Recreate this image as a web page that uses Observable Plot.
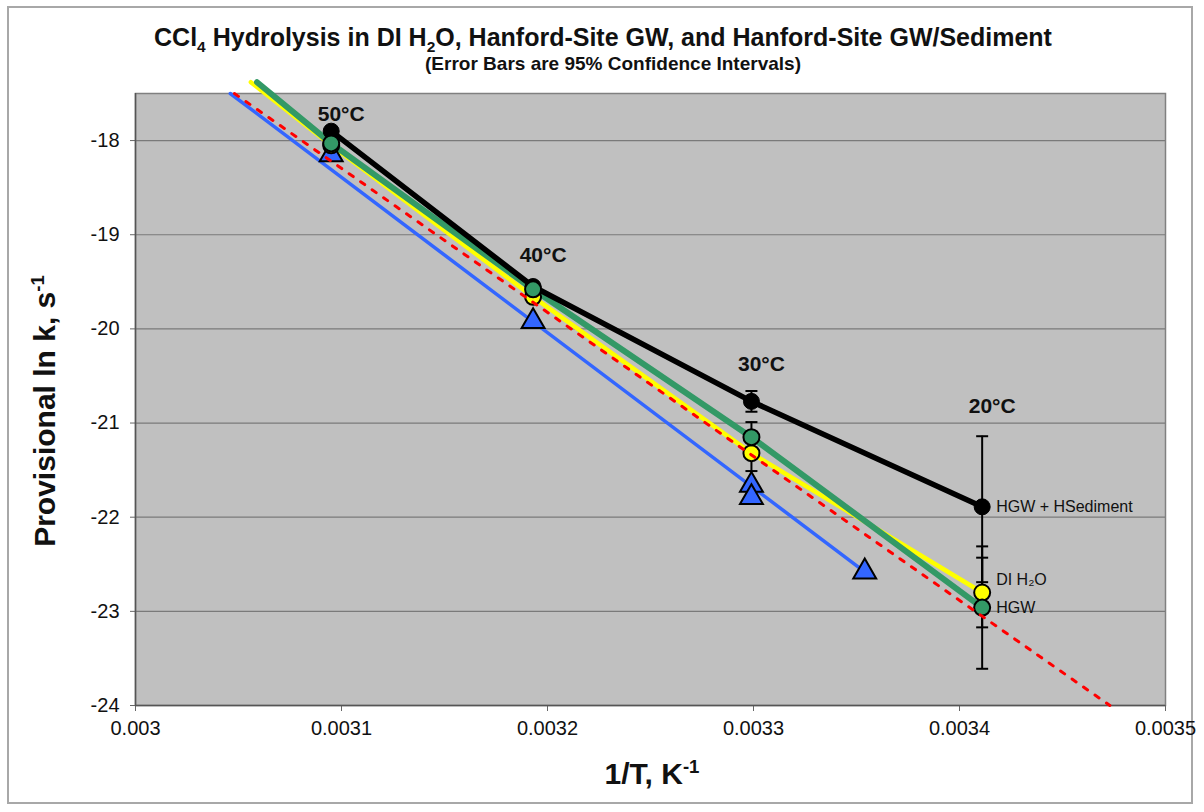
<!DOCTYPE html>
<html>
<head>
<meta charset="utf-8">
<script src="https://cdn.jsdelivr.net/npm/d3@7"></script>
<script src="https://cdn.jsdelivr.net/npm/@observablehq/plot@0.6"></script>
<style>
  body { margin: 0; background: #fff; font-family: "Liberation Sans", Arial, sans-serif; }
  #wrap { position: relative; width: 1204px; height: 812px; overflow: hidden; }
  #border { position: absolute; left: 7px; top: 6px; width: 1186px; height: 798px; border: 2px solid #a8a8a8; box-sizing: border-box; }
  #chart { position: absolute; left: 0; top: 0; }
  .t { position: absolute; white-space: nowrap; font-weight: bold; color: #111; line-height: 1; }
  #title { left: 603px; top: 37px; font-size: 25px; transform: translate(-50%, -50%); }
  #subtitle { left: 613px; top: 63px; font-size: 19px; transform: translate(-50%, -50%); }
  #ylab { font-size: 30px; left: 45px; top: 411px; transform: translate(-50%, -50%) rotate(-90deg); }
  #xlab { font-size: 30px; left: 652px; top: 774px; transform: translate(-50%, -50%); }
  sub, sup { font-size: 62%; line-height: 0; }
</style>
</head>
<body>
<div id="wrap">
  <div id="border"></div>
  <div id="chart"></div>
  <div class="t" id="title">CCl<sub>4</sub> Hydrolysis in DI H<sub>2</sub>O, Hanford-Site GW, and Hanford-Site GW/Sediment</div>
  <div class="t" id="subtitle">(Error Bars are 95% Confidence Intervals)</div>
  <div class="t" id="ylab">Provisional ln k, s<sup>-1</sup></div>
  <div class="t" id="xlab">1/T, K<sup>-1</sup></div>
</div>
<script>
// ---- data ----
const tempLabels = ["50°C", "40°C", "30°C", "20°C"];
const invT = [0.003095, 0.003193, 0.003299, 0.003411];
const tempLabelY = [-17.72, -19.22, -20.38, -20.82];

// HGW + HSediment (black)
const sedY = [-17.90, -19.55, -20.77, -21.89];
const sedLo = [null, null, -20.88, -22.69];
const sedHi = [null, null, -20.66, -21.14];

// HGW (green)
const hgwY = [-18.03, -19.58, -21.15, -22.96];
const hgwLo = [null, null, -21.31, -23.61];
const hgwHi = [null, null, -20.99, -22.31];
const hgwStart = [0.003059, -17.38];

// DI H2O (yellow)
const diY = [-18.05, -19.66, -21.32, -22.80];
const diLo = [null, null, -21.51, -23.17];
const diHi = [null, null, -21.13, -22.43];
const diStart = [0.003056, -17.38];

// blue triangles and fit line
const blueX = [0.003095, 0.003193, 0.003299, 0.003299, 0.003354];
const blueY = [-18.15, -19.92, -21.66, -21.79, -22.58];
const blueFitX = [0.003046, 0.003354];
const blueFitY = [-17.5, -22.58];

// red dashed reference line
const redX = [0.003048, 0.003473];
const redY = [-17.5, -24.0];

// axes
const xTicks = [0.003, 0.0031, 0.0032, 0.0033, 0.0034, 0.0035];
const xTickLabels = ["0.003", "0.0031", "0.0032", "0.0033", "0.0034", "0.0035"];
const yTicks = [-24, -23, -22, -21, -20, -19, -18];
const yTickLabels = ["-24", "-23", "-22", "-21", "-20", "-19", "-18"];
const gridY = [-23, -22, -21, -20, -19, -18];

const seriesLabels = ["HGW + HSediment", "DI H₂O", "HGW"];
const seriesLabelY = [-21.89, -22.67, -22.96];

// ---- build tables ----
const pts = (ys) => invT.map((x, i) => ({x, y: ys[i]}));
const errs = (lo, hi) => invT.map((x, i) => ({x, lo: lo[i], hi: hi[i]})).filter(d => d.lo != null);
const sedPts = pts(sedY), hgwPts = pts(hgwY), diPts = pts(diY);
const hgwLine = [{x: hgwStart[0], y: hgwStart[1]}, ...hgwPts];
const diLine = [{x: diStart[0], y: diStart[1]}, ...diPts];
const bluePts = blueX.map((x, i) => ({x, y: blueY[i]}));
const blueFit = blueFitX.map((x, i) => ({x, y: blueFitY[i]}));
const redLine = redX.map((x, i) => ({x, y: redY[i]}));
const allErr = [...errs(sedLo, sedHi), ...errs(hgwLo, hgwHi), ...errs(diLo, diHi)];
const capPts = allErr.flatMap(d => [{x: d.x, y: d.lo}, {x: d.x, y: d.hi}]);
const tempText = tempLabels.map((t, i) => ({x: invT[i], y: tempLabelY[i], t}));
const serText = seriesLabels.map((t, i) => ({x: invT[3], y: seriesLabelY[i], t}));

const cap = { draw(ctx) { ctx.moveTo(-6, 0); ctx.lineTo(6, 0); } };

const chart = Plot.plot({
  width: 1204,
  height: 812,
  marginLeft: 135,
  marginRight: 39,
  marginTop: 93,
  marginBottom: 107,
  style: { background: "transparent", fontFamily: "'Liberation Sans', Arial, sans-serif", fontSize: "20px", color: "#111" },
  x: { domain: [0.003, 0.0035] },
  y: { domain: [-24, -17.5] },
  marks: [
    Plot.frame({ fill: "#c0c0c0", stroke: "#808080", strokeWidth: 1.5 }),
    Plot.ruleY(gridY, { stroke: "#7a7a7a", strokeWidth: 1.2 }),
    Plot.axisY({ ticks: yTicks, tickFormat: (d, i) => yTickLabels[i], tickSize: 5, tickPadding: 11, label: null, fontSize: 20, stroke: "#666" }),
    Plot.axisX({ ticks: xTicks, tickFormat: (d, i) => xTickLabels[i], tickSize: 6, tickPadding: 9, label: null, fontSize: 20, stroke: "#666" }),
    Plot.ruleY([-24], { stroke: "#555", strokeWidth: 1.5 }),
    Plot.ruleX([0.003], { stroke: "#555", strokeWidth: 1.5 }),
    // error bars
    Plot.ruleX(allErr, { x: "x", y1: "lo", y2: "hi", stroke: "black", strokeWidth: 2 }),
    Plot.dot(capPts, { x: "x", y: "y", symbol: cap, stroke: "black", fill: "none", strokeWidth: 2 }),
    // lines
    Plot.line(blueFit, { x: "x", y: "y", stroke: "#3366ff", strokeWidth: 3.5 }),
    Plot.line(diLine, { x: "x", y: "y", stroke: "#ffff00", strokeWidth: 4.5 }),
    Plot.line(hgwLine, { x: "x", y: "y", stroke: "#339966", strokeWidth: 6 }),
    Plot.line(sedPts, { x: "x", y: "y", stroke: "black", strokeWidth: 5.5 }),
    // markers
    Plot.dot(bluePts, { x: "x", y: "y", symbol: "triangle", r: 8.5, fill: "#3366ff", stroke: "black", strokeWidth: 2 }),
    Plot.dot(sedPts, { x: "x", y: "y", r: 8, fill: "black", stroke: "black", strokeWidth: 1 }),
    Plot.dot(diPts, { x: "x", y: "y", r: 8, fill: "#ffff00", stroke: "black", strokeWidth: 2 }),
    Plot.dot(hgwPts, { x: "x", y: "y", r: 8, fill: "#339966", stroke: "black", strokeWidth: 2 }),
    // red dashed
    Plot.line(redLine, { x: "x", y: "y", stroke: "#ff0000", strokeWidth: 3, strokeDasharray: "5,9" }),
    // labels
    Plot.text(tempText, { x: "x", y: "y", text: "t", dx: 10, fontSize: 21, fontWeight: "bold", fill: "#111" }),
    Plot.text(serText, { x: "x", y: "y", text: "t", dx: 14, textAnchor: "start", fontSize: 16, fill: "#111" })
  ]
});
document.getElementById("chart").appendChild(chart);
</script>
</body>
</html>
